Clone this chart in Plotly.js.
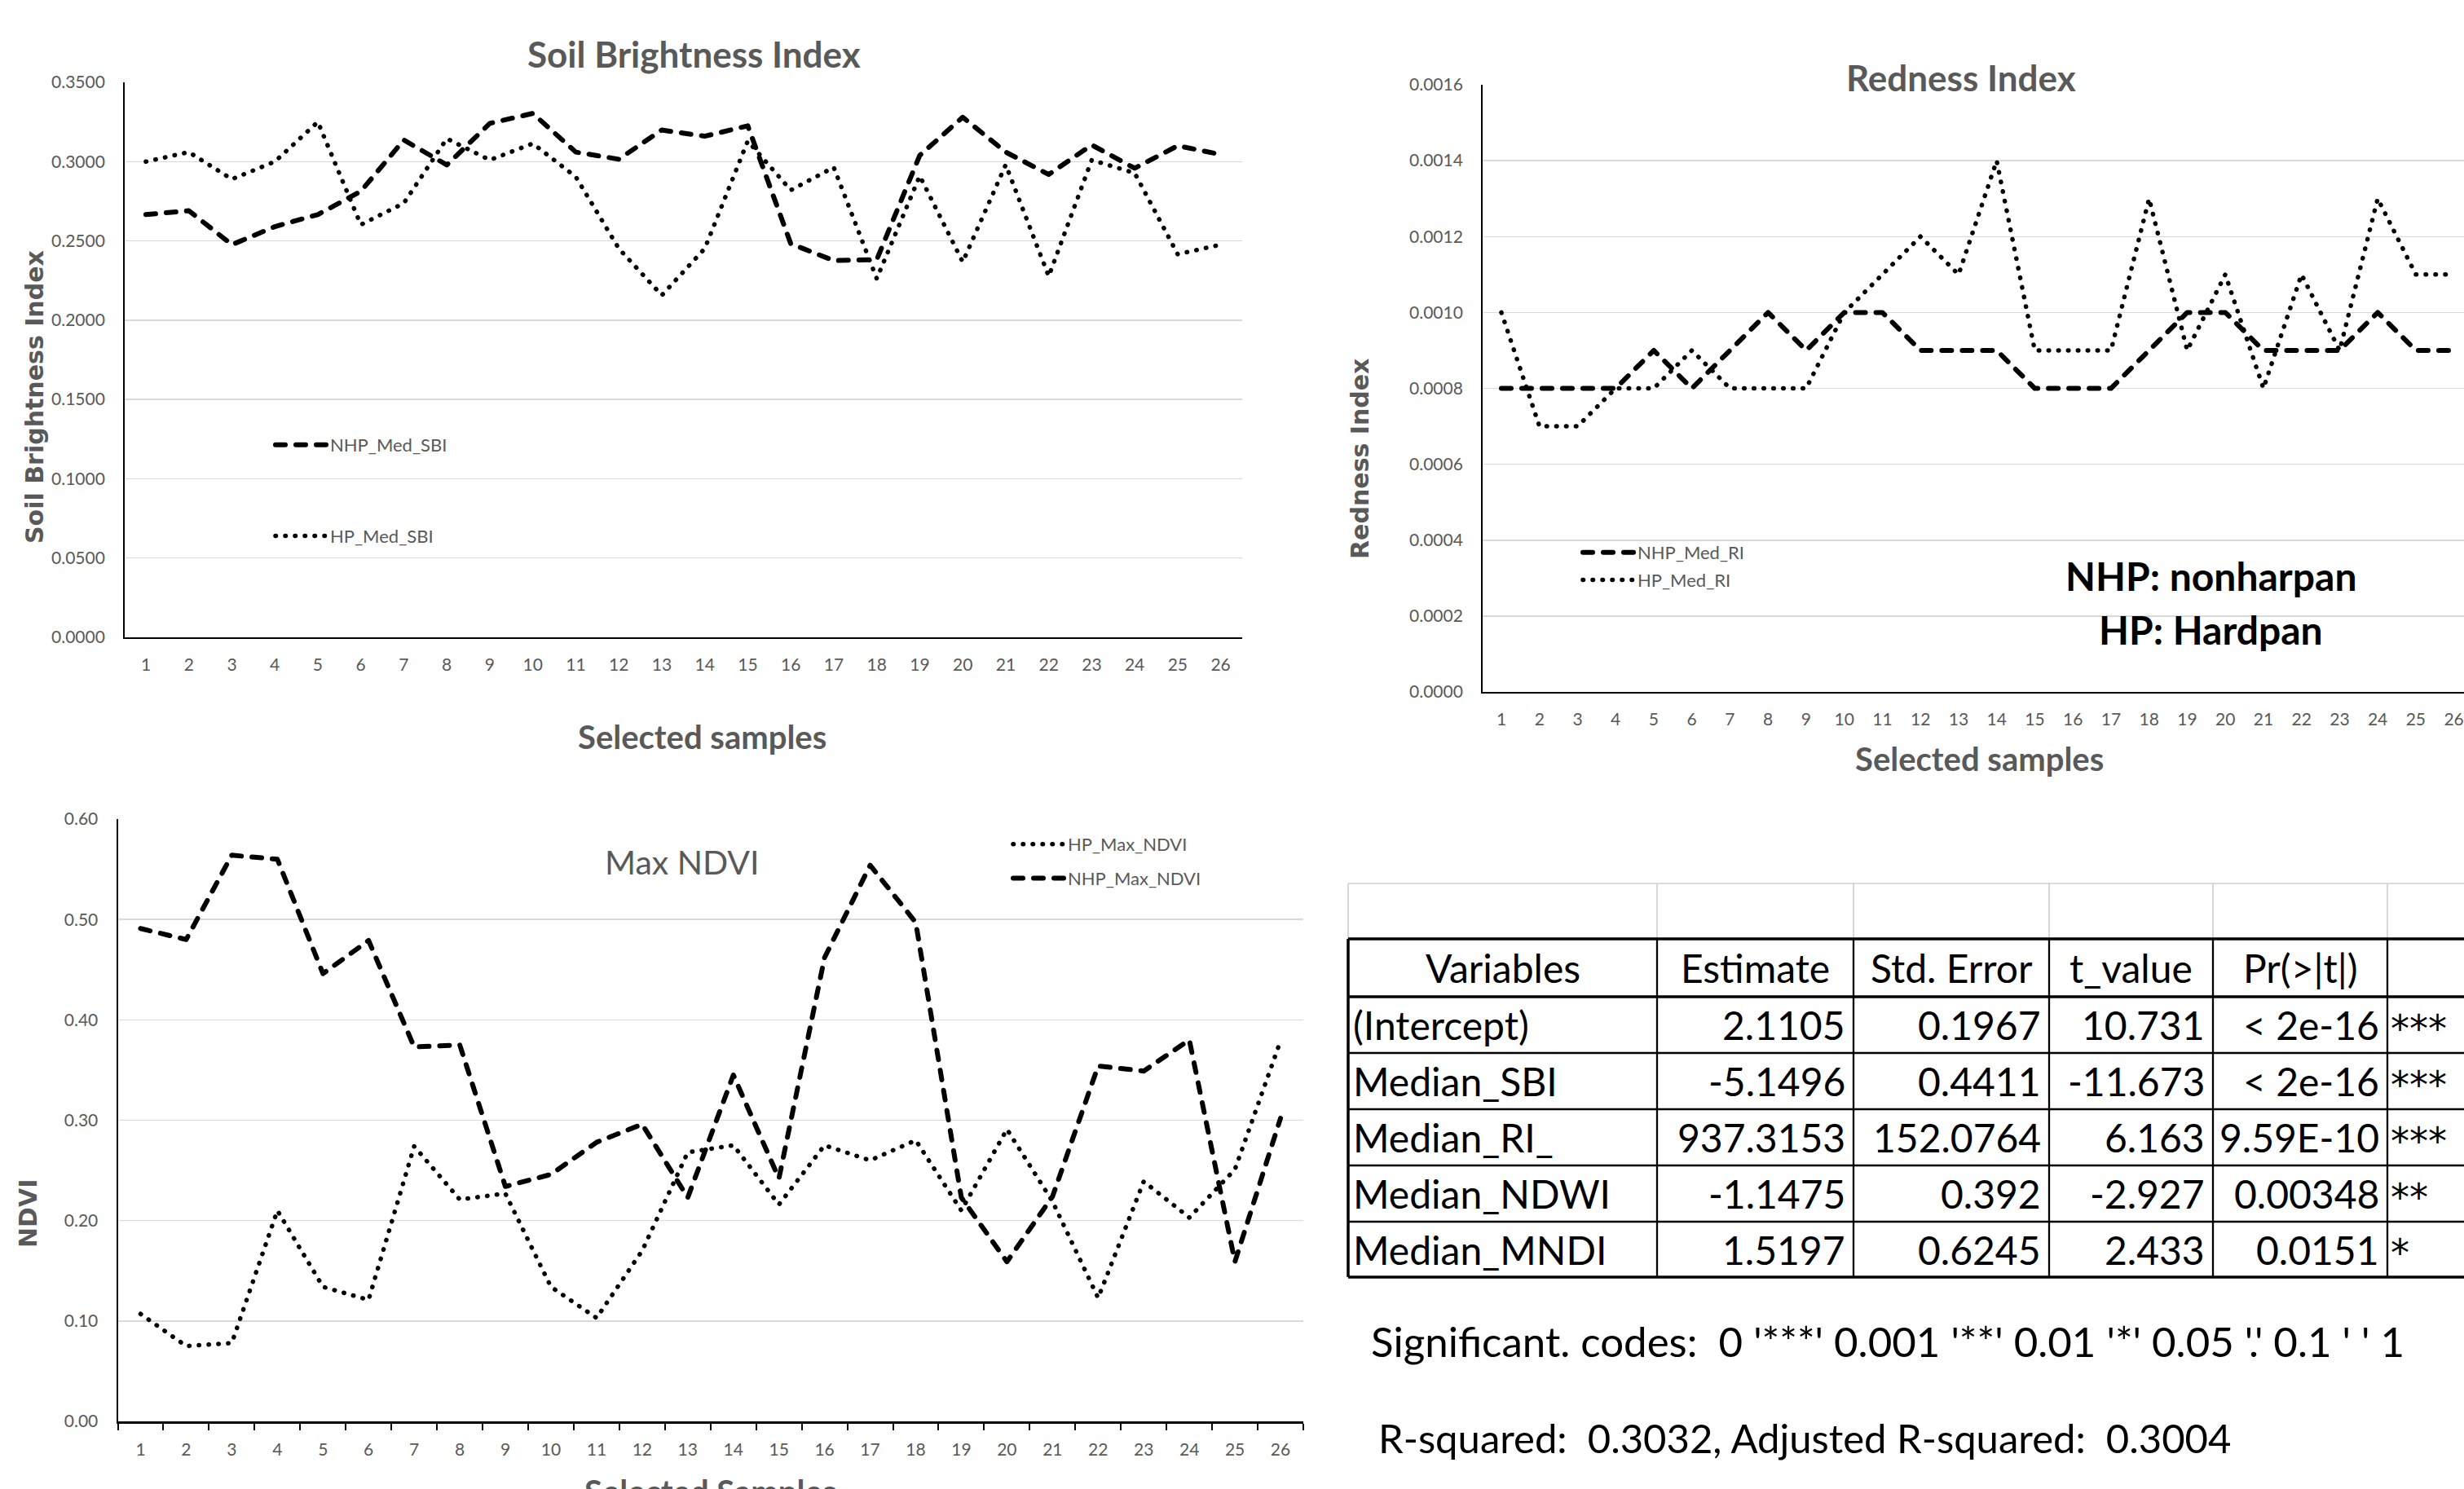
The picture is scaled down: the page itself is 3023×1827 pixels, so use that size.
<!DOCTYPE html>
<html><head><meta charset="utf-8">
<script src="https://cdn.plot.ly/plotly-3.0.1.min.js"></script>
<style>
html,body{margin:0;padding:0;overflow:hidden;background:#fff;width:3023px;height:1827px;}
#chart{width:3060px;height:1827px;}
.js-line{stroke-linecap:round;stroke-linejoin:round;}
</style></head><body><div id="chart"></div>
<script>
// ---------------- DATA ----------------
const samples = ['1','2','3','4','5','6','7','8','9','10','11','12','13','14','15','16','17','18','19','20','21','22','23','24','25','26'];

const sbiNHP = [0.2666,0.2690,0.2476,0.2590,0.2666,0.2813,0.3136,0.2979,0.3241,0.3304,0.3060,0.3015,0.3199,0.3160,0.3226,0.2482,0.2376,0.2382,0.3039,0.3280,0.3060,0.2919,0.3105,0.2958,0.3100,0.3045];
const sbiHP  = [0.3000,0.3060,0.2889,0.3000,0.3250,0.2602,0.2738,0.3145,0.3010,0.3114,0.2904,0.2452,0.2157,0.2452,0.3130,0.2820,0.2964,0.2262,0.2910,0.2367,0.2980,0.2277,0.3010,0.2928,0.2416,0.2476];

const riNHP = [0.0008,0.0008,0.0008,0.0008,0.0009,0.0008,0.0009,0.0010,0.0009,0.0010,0.0010,0.0009,0.0009,0.0009,0.0008,0.0008,0.0008,0.0009,0.0010,0.0010,0.0009,0.0009,0.0009,0.0010,0.0009,0.0009];
const riHP  = [0.0010,0.0007,0.0007,0.0008,0.0008,0.0009,0.0008,0.0008,0.0008,0.0010,0.0011,0.0012,0.0011,0.0014,0.0009,0.0009,0.0009,0.0013,0.0009,0.0011,0.0008,0.0011,0.0009,0.0013,0.0011,0.0011];

const ndviHP  = [0.107,0.075,0.078,0.210,0.134,0.121,0.274,0.221,0.227,0.134,0.103,0.170,0.268,0.275,0.216,0.275,0.260,0.280,0.210,0.291,0.219,0.123,0.239,0.203,0.251,0.379];
const ndviNHP = [0.491,0.480,0.564,0.560,0.446,0.479,0.373,0.375,0.234,0.246,0.278,0.296,0.223,0.345,0.242,0.462,0.554,0.497,0.223,0.159,0.224,0.354,0.349,0.380,0.159,0.302];

const tableHeader    = ['Variables','Estimate','Std. Error','t_value','Pr(>|t|)',''];
const tableVariables = ['(Intercept)','Median_SBI','Median_RI_','Median_NDWI','Median_MNDI'];
const tableEstimate  = ['2.1105','-5.1496','937.3153','-1.1475','1.5197'];
const tableStdError  = ['0.1967','0.4411','152.0764','0.392','0.6245'];
const tableTValue    = ['10.731','-11.673','6.163','-2.927','2.433'];
const tablePValue    = ['< 2e-16','< 2e-16','9.59E-10','0.00348','0.0151'];
const tableSignif    = ['***','***','***','**','*'];
const signifText = "Significant. codes:  0 '***' 0.001 '**' 0.01 '*' 0.05 '.' 0.1 ' ' 1";
const rsqText = 'R-squared:  0.3032, Adjusted R-squared:  0.3004';

// ---------------- LAYOUT HELPERS ----------------
const W = 3060, H = 1827;
const px = x => x / W;
const py = y => 1 - y / H;
const CAL = 'Lato, "Liberation Sans", sans-serif';
const VER = '"DejaVu Sans", Verdana, sans-serif';
const GRAY = '#595959';
const esc = s => s.replace(/&/g,'&amp;').replace(/</g,'&lt;').replace(/>/g,'&gt;').replace(/ {2}/g,'\u00a0\u00a0');

const dashNHP = {color:'#000', width:6, dash:'12px,13px'};
const dotHP = {color:'#000', width:5.5, dash:'0.5px,11.5px'};

const data = [
  {x:samples, y:sbiNHP, type:'scatter', mode:'lines', name:'NHP_Med_SBI', line:dashNHP, xaxis:'x', yaxis:'y', legend:'legend', legendgroup:'a1', hoverinfo:'skip'},
  {x:samples, y:sbiHP, type:'scatter', mode:'lines', name:'HP_Med_SBI', line:dotHP, xaxis:'x', yaxis:'y', legend:'legend', legendgroup:'a2', hoverinfo:'skip'},
  {x:samples, y:riNHP, type:'scatter', mode:'lines', name:'NHP_Med_RI', line:dashNHP, xaxis:'x2', yaxis:'y2', legend:'legend2', legendgroup:'b1', hoverinfo:'skip'},
  {x:samples, y:riHP, type:'scatter', mode:'lines', name:'HP_Med_RI', line:dotHP, xaxis:'x2', yaxis:'y2', legend:'legend2', legendgroup:'b2', hoverinfo:'skip'},
  {x:samples, y:ndviHP, type:'scatter', mode:'lines', name:'HP_Max_NDVI', line:dotHP, xaxis:'x3', yaxis:'y3', legend:'legend3', legendgroup:'c1', legendrank:1, hoverinfo:'skip'},
  {x:samples, y:ndviNHP, type:'scatter', mode:'lines', name:'NHP_Max_NDVI', line:dashNHP, xaxis:'x3', yaxis:'y3', legend:'legend3', legendgroup:'c2', legendrank:2, hoverinfo:'skip'}
];

const tickFont = {family:CAL, size:21, color:GRAY};
function xAx(x0, x1, anchor, extra) {
  return Object.assign({type:'category', range:[-0.5, 25.5], domain:[px(x0), px(x1)], anchor:anchor,
    showgrid:false, showline:true, linecolor:'#000', linewidth:2, ticks:'', zeroline:false,
    tickfont:tickFont, ticklabelstandoff:14, fixedrange:true}, extra || {});
}
function yAx(y0, y1, anchor, range, dtick, fmt, extra) {
  return Object.assign({domain:[py(y1), py(y0)], anchor:anchor, range:range, dtick:dtick, tick0:0, tickformat:fmt,
    showgrid:true, gridcolor:'#d9d9d9', gridwidth:1.5, showline:true, linecolor:'#000', linewidth:1.5,
    ticks:'', zeroline:false, tickfont:tickFont, ticklabelstandoff:18, fixedrange:true}, extra || {});
}

const legendBase = {xanchor:'left', yanchor:'top', bgcolor:'rgba(0,0,0,0)', borderwidth:0,
  font:{family:CAL, size:22, color:GRAY}, itemwidth:62, traceorder:'grouped'};

const annotations = [];
function txt(t, x, y, font, extra) {
  annotations.push(Object.assign({text:esc(t), x:px(x), y:py(y), xref:'paper', yref:'paper',
    showarrow:false, xanchor:'center', yanchor:'middle', font:font}, extra || {}));
}
// chart titles
txt('Soil Brightness Index', 851, 66, {family:CAL, size:44, color:GRAY, weight:'bold'});
txt('Redness Index', 2406, 95, {family:CAL, size:44, color:GRAY, weight:'bold'}, {bgcolor:'#fff'});
txt('Max NDVI', 837, 1057, {family:CAL, size:41, color:GRAY});
// axis titles
txt('Soil Brightness Index', 43, 487, {family:VER, size:30, color:GRAY, weight:'bold'}, {textangle:-90});
txt('Redness Index', 1668, 563, {family:VER, size:30, color:GRAY, weight:'bold'}, {textangle:-90});
txt('NDVI', 34, 1489, {family:VER, size:30, color:GRAY, weight:'bold'}, {textangle:-90});
txt('Selected samples', 861, 904, {family:CAL, size:40, color:GRAY, weight:'bold'});
txt('Selected samples', 2428, 931, {family:CAL, size:40, color:GRAY, weight:'bold'});
txt('Selected Samples', 871, 1830, {family:CAL, size:40, color:GRAY, weight:'bold'});
// notes
txt('NHP: nonharpan', 2712, 707, {family:CAL, size:48, color:'#000', weight:'bold'});
txt('HP: Hardpan', 2712, 772, {family:CAL, size:48, color:'#000', weight:'bold'});
txt(signifText, 1680, 1645, {family:CAL, size:51, color:'#000'}, {xanchor:'left'});
txt(rsqText, 1689, 1764, {family:CAL, size:49, color:'#000'}, {xanchor:'left'});

// ---------------- TABLE ----------------
const colEdges = [1654, 2033, 2274, 2514, 2715, 2929, 3060];
const rowEdges = [1152, 1223, 1292, 1361, 1430, 1499, 1567];
const grayTop = 1084;
const colAlign = ['left','right','right','right','right','left'];
const tableColumns = [tableVariables, tableEstimate, tableStdError, tableTValue, tablePValue, tableSignif];
const tFont = {family:CAL, size:48, color:'#000'};
const starFont = {family:VER, size:46, color:'#000'};

tableHeader.forEach((h, c) => {
  if (h) txt(h, (colEdges[c] + colEdges[c+1]) / 2, (rowEdges[0] + rowEdges[1]) / 2, tFont);
});
tableColumns.forEach((col, c) => {
  col.forEach((v, r) => {
    const yc = (rowEdges[r+1] + rowEdges[r+2]) / 2;
    if (c === tableColumns.length - 1) txt(v, colEdges[c] + 2, yc + 4, starFont, {xanchor:'left'});
    else if (colAlign[c] === 'left') txt(v, colEdges[c] + 4, yc, tFont, {xanchor:'left'});
    else txt(v, colEdges[c+1] - 8, yc, tFont, {xanchor:'right'});
  });
});

const shapes = [];
function line(x0, y0, x1, y1, color, w) {
  shapes.push({type:'line', xref:'paper', yref:'paper', x0:px(x0), y0:py(y0), x1:px(x1), y1:py(y1), line:{color:color, width:w}, layer:'above'});
}
line(colEdges[0], grayTop, W, grayTop, '#d0d0d0', 1.7);
colEdges.slice(0, -1).forEach(x => line(x, grayTop, x, rowEdges[0], '#d0d0d0', 1.7));
rowEdges.forEach((y, i) => {
  const w = (i === 0 || i === 1 || i === rowEdges.length - 1) ? 3.5 : 2.7;
  line(colEdges[0], y, W, y, '#000', w);
});
colEdges.slice(0, -1).forEach((x, i) => line(x, rowEdges[0], x, rowEdges[rowEdges.length-1], '#000', i === 0 ? 3.5 : 2.3));

const layout = {
  width: W, height: H, margin:{l:0, r:0, t:0, b:0}, paper_bgcolor:'#fff', plot_bgcolor:'#fff',
  showlegend:true,
  xaxis: xAx(152.6, 1524, 'y'),
  yaxis: yAx(101, 782, 'x', [0, 0.35], 0.05, '.4f'),
  xaxis2: xAx(1818.6, 3034, 'y2'),
  yaxis2: yAx(104, 849, 'x2', [0, 0.0016], 0.0002, '.4f'),
  xaxis3: xAx(144.5, 1599, 'y3', {linewidth:3, ticks:'outside', ticklen:8, tickwidth:2, tickcolor:'#000', tickson:'boundaries'}),
  yaxis3: yAx(1005, 1744, 'x3', [0, 0.6], 0.1, '.2f', {linewidth:2}),
  legend: Object.assign({}, legendBase, {x:px(333), y:py(525), tracegroupgap:80}),
  legend2: Object.assign({}, legendBase, {x:px(1937), y:py(657), tracegroupgap:2}),
  legend3: Object.assign({}, legendBase, {x:px(1238), y:py(1015), tracegroupgap:10}),
  annotations: annotations,
  shapes: shapes
};

Plotly.newPlot('chart', data, layout, {staticPlot:true, displayModeBar:false});
</script></body></html>
